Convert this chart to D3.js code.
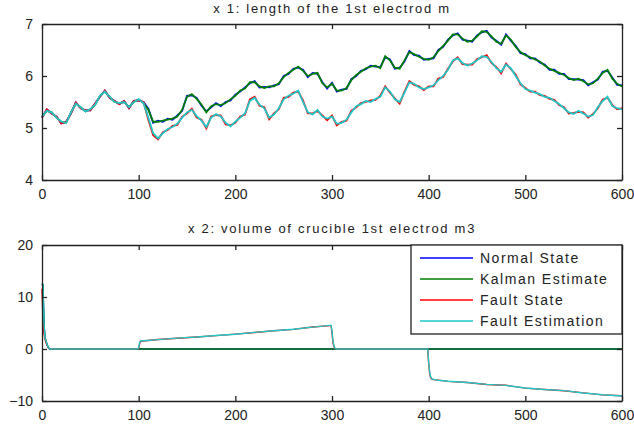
<!DOCTYPE html>
<html>
<head>
<meta charset="utf-8">
<script src="https://cdn.jsdelivr.net/npm/d3@7"></script>
<style>
  body { margin: 0; background: #fff; }
  svg text { font-family: "Liberation Sans", Arial, sans-serif; fill: #222; }
</style>
</head>
<body>
<div id="chart"></div>
<script>
// time step of the x1 series
const stepX1 = 5;

// x1 : length of the electrode (one value every 5 samples, 0..600)
const normalX1 = [
  5.20,5.36,5.28,5.22,5.09,5.12,5.28,5.49,5.38,5.34,
  5.34,5.47,5.60,5.72,5.58,5.52,5.46,5.52,5.38,5.52,
  5.53,5.50,5.37,5.10,5.14,5.12,5.18,5.16,5.24,5.33,
  5.62,5.63,5.58,5.43,5.32,5.40,5.48,5.42,5.50,5.53,
  5.64,5.70,5.78,5.86,5.90,5.78,5.79,5.78,5.82,5.84,
  6.00,6.04,6.14,6.16,6.12,5.98,6.06,6.04,5.88,5.76,
  5.87,5.70,5.74,5.75,5.94,6.00,6.10,6.13,6.20,6.18,
  6.17,6.36,6.32,6.14,6.16,6.28,6.48,6.40,6.39,6.31,
  6.33,6.34,6.50,6.56,6.70,6.78,6.82,6.70,6.68,6.66,
  6.78,6.84,6.87,6.74,6.68,6.60,6.80,6.68,6.58,6.44,
  6.42,6.34,6.34,6.26,6.22,6.12,6.12,6.04,6.04,5.94,
  5.94,5.93,5.92,5.82,5.88,5.93,6.08,6.10,5.97,5.83,
  5.82
];
const kalmanX1 = [
  5.22,5.33,5.30,5.20,5.12,5.10,5.30,5.47,5.40,5.32,
  5.36,5.45,5.62,5.70,5.60,5.50,5.48,5.50,5.40,5.50,
  5.55,5.48,5.35,5.12,5.12,5.14,5.16,5.18,5.22,5.35,
  5.60,5.65,5.56,5.45,5.30,5.42,5.46,5.44,5.48,5.55,
  5.62,5.72,5.76,5.88,5.88,5.80,5.77,5.80,5.80,5.86,
  5.98,6.06,6.12,6.18,6.10,6.00,6.04,6.06,5.86,5.78,
  5.85,5.72,5.72,5.77,5.92,6.02,6.08,6.15,6.18,6.20,
  6.15,6.38,6.30,6.16,6.14,6.30,6.46,6.42,6.37,6.33,
  6.31,6.36,6.48,6.58,6.68,6.80,6.80,6.72,6.66,6.68,
  6.76,6.86,6.85,6.76,6.66,6.62,6.78,6.70,6.56,6.46,
  6.40,6.36,6.32,6.28,6.20,6.14,6.10,6.06,6.02,5.96,
  5.92,5.95,5.90,5.84,5.86,5.95,6.06,6.12,5.95,5.85,
  5.80
];
const faultX1 = [
  5.20,5.36,5.28,5.22,5.09,5.12,5.28,5.49,5.38,5.34,
  5.34,5.47,5.60,5.72,5.58,5.52,5.46,5.52,5.38,5.52,
  5.53,5.50,5.16,4.86,4.78,4.92,4.96,5.04,5.06,5.22,
  5.28,5.37,5.20,5.16,4.99,5.22,5.25,5.24,5.07,5.05,
  5.10,5.22,5.26,5.55,5.60,5.43,5.40,5.17,5.28,5.36,
  5.58,5.60,5.68,5.70,5.53,5.28,5.28,5.33,5.24,5.15,
  5.24,5.05,5.12,5.14,5.33,5.40,5.48,5.50,5.53,5.54,
  5.62,5.80,5.68,5.57,5.47,5.70,5.90,5.83,5.80,5.73,
  5.80,5.80,5.95,5.98,6.14,6.28,6.36,6.23,6.22,6.22,
  6.32,6.36,6.40,6.25,6.17,6.05,6.24,6.13,6.03,5.84,
  5.77,5.70,5.70,5.63,5.62,5.56,5.54,5.44,5.40,5.28,
  5.29,5.31,5.30,5.20,5.27,5.38,5.55,5.58,5.44,5.36,
  5.38
];
const faultEstX1 = [
  5.22,5.33,5.30,5.20,5.12,5.10,5.30,5.47,5.40,5.32,
  5.36,5.45,5.62,5.70,5.60,5.50,5.48,5.50,5.40,5.50,
  5.55,5.48,5.20,4.90,4.80,4.90,4.98,5.02,5.08,5.20,
  5.30,5.35,5.23,5.14,5.02,5.20,5.27,5.22,5.10,5.03,
  5.12,5.20,5.28,5.52,5.58,5.45,5.38,5.20,5.26,5.38,
  5.55,5.62,5.66,5.72,5.50,5.30,5.26,5.35,5.22,5.18,
  5.22,5.08,5.10,5.16,5.30,5.42,5.46,5.52,5.50,5.56,
  5.60,5.78,5.70,5.55,5.50,5.68,5.88,5.85,5.78,5.75,
  5.78,5.82,5.92,6.00,6.12,6.30,6.34,6.25,6.20,6.24,
  6.30,6.38,6.37,6.27,6.15,6.08,6.22,6.15,6.00,5.86,
  5.75,5.72,5.68,5.65,5.60,5.58,5.52,5.46,5.38,5.30,
  5.27,5.33,5.28,5.22,5.25,5.40,5.52,5.60,5.42,5.38,
  5.36
];

// x2 : crucible volume, given as (time, value) break points
const normalX2T = [0, 1, 2, 3, 4, 5, 6, 7, 8, 600];
const normalX2 = [12.5, 12.3, 5.0, 2.3, 1.6, 1.0, 0.5, 0.2, 0, 0];
const kalmanX2T = [0, 1, 2, 3, 4, 5, 6, 7, 8, 600];
const kalmanX2 = [12.6, 12.4, 5.0, 2.3, 1.6, 1.0, 0.5, 0.2, 0, 0];
const faultX2T = [0,1,2,3,4,5,6,7,8,99,100,101,102,120,140,160,180,200,220,240,260,280,298,299,300,301,302,303,304,
  399,400,401,402,403,405,410,420,440,460,480,500,520,540,560,580,600];
const faultX2 = [11.6,5.5,3.0,2.0,1.3,0.8,0.4,0.1,0,0,0.1,1.0,1.5,1.82,2.08,2.32,2.58,2.87,3.18,3.52,3.78,4.22,4.5,4.5,3.2,1.2,0.5,0.1,0,
  0,-2.8,-4.6,-5.5,-5.75,-5.9,-5.98,-6.22,-6.43,-6.82,-6.98,-7.52,-7.78,-8.02,-8.43,-8.82,-9.0];
const faultEstX2T = faultX2T;
const faultEstX2 = [12.6,12.4,5.0,2.3,1.6,1.0,0.5,0.2,0,0,0.3,1.2,1.55,1.8,2.1,2.3,2.6,2.85,3.2,3.5,3.8,4.2,4.55,4.55,3.5,1.5,0.6,0.2,0,
  0,-2.5,-4.4,-5.3,-5.7,-5.85,-6.0,-6.2,-6.45,-6.8,-7.0,-7.5,-7.8,-8.0,-8.45,-8.8,-9.05];

const xTicks = [0, 100, 200, 300, 400, 500, 600];
const yTicksX1 = [4, 5, 6, 7];
const yTicksX2 = [-10, 0, 10, 20];
const legendLabels = ["Normal State", "Kalman Estimate", "Fault State", "Fault Estimation"];
const colors = ["#0000ff", "#008000", "#ff0000", "#1ec8c8"];

const width = 634, height = 427;
const svg = d3.select("#chart").append("svg")
  .attr("width", width)
  .attr("height", height);

const x = d3.scaleLinear().domain([0, 600]).range([42, 622]);

function drawPanel(top, bottom, yDomain, yTicks, title, titleY, series, lw) {
  const y = d3.scaleLinear().domain(yDomain).range([bottom, top]);
  const g = svg.append("g");

  // series
  const line = d3.line().x((d) => x(d[0])).y((d) => y(d[1]));
  series.forEach((s, i) => {
    g.append("path")
      .datum(s)
      .attr("fill", "none")
      .attr("stroke", colors[i])
      .attr("stroke-width", lw)
      .attr("d", line);
  });

  // matlab style box with inward ticks on all sides
  const tk = 5;
  g.append("g")
    .attr("transform", `translate(0,${bottom})`)
    .call(d3.axisBottom(x).tickValues(xTicks).tickSizeInner(-tk).tickSizeOuter(0).tickPadding(9));
  g.append("g")
    .attr("transform", `translate(0,${top})`)
    .call(d3.axisTop(x).tickValues(xTicks).tickSizeInner(-tk).tickSizeOuter(0).tickFormat(""));
  g.append("g")
    .attr("transform", `translate(${x(0)},0)`)
    .call(d3.axisLeft(y).tickValues(yTicks).tickFormat(d3.format("d"))
      .tickSizeInner(-tk).tickSizeOuter(0).tickPadding(9));
  g.append("g")
    .attr("transform", `translate(${x(600)},0)`)
    .call(d3.axisRight(y).tickValues(yTicks).tickSizeInner(-tk).tickSizeOuter(0).tickFormat(""));
  g.selectAll(".domain").attr("stroke", "#222").attr("stroke-width", 1.3);
  g.selectAll(".tick line").attr("stroke", "#222").attr("stroke-width", 1.3);
  g.selectAll(".tick text")
    .style("font-size", "14px")
    .style("font-family", "'Liberation Sans', Arial, sans-serif")
    .attr("fill", "#222");

  g.append("text")
    .attr("x", (x(0) + x(600)) / 2)
    .attr("y", titleY)
    .attr("text-anchor", "middle")
    .style("font-size", "13px")
    .style("letter-spacing", "1.7px")
    .text(title);
  return { g, y };
}

const zip = (ts, vs) => vs.map((v, i) => [ts[i], v]);
const onGrid = (vs) => vs.map((v, i) => [i * stepX1, v]);

drawPanel(24, 180, [4, 7], yTicksX1, "x 1:  length of the 1st electrod m", 13,
  [onGrid(normalX1), onGrid(kalmanX1), onGrid(faultX1), onGrid(faultEstX1)], 1.8);

drawPanel(245, 401, [-10, 20], yTicksX2, "x 2: volume of crucible 1st electrod m3", 233,
  [zip(normalX2T, normalX2), zip(kalmanX2T, kalmanX2), zip(faultX2T, faultX2), zip(faultEstX2T, faultEstX2)], 1.4);

// legend
const lg = svg.append("g");
lg.append("rect")
  .attr("x", 411).attr("y", 245)
  .attr("width", 211).attr("height", 89)
  .attr("fill", "#fff").attr("stroke", "#222").attr("stroke-width", 1.3);
legendLabels.forEach((name, i) => {
  const ly = 258 + i * 21;
  lg.append("line")
    .attr("x1", 420).attr("x2", 473)
    .attr("y1", ly).attr("y2", ly)
    .attr("stroke", colors[i]).attr("stroke-width", 1.4);
  lg.append("text")
    .attr("x", 480).attr("y", ly + 5)
    .style("font-size", "14px")
    .style("letter-spacing", "1.5px")
    .text(name);
});
</script>
</body>
</html>
